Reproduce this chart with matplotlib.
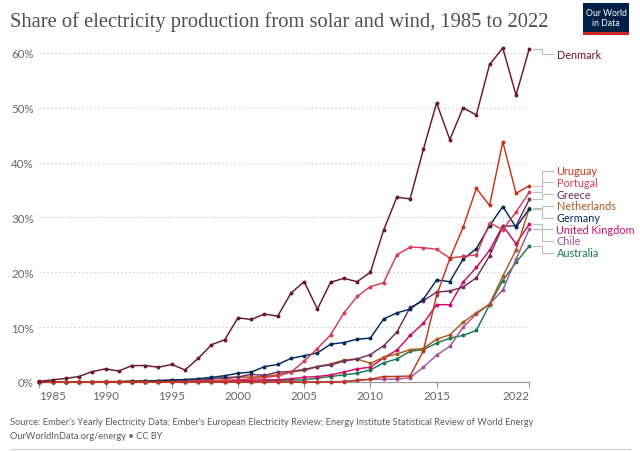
import matplotlib
matplotlib.use("Agg")
import matplotlib.pyplot as plt
from matplotlib.patches import Rectangle
from matplotlib.lines import Line2D
import matplotlib.transforms as mtransforms

years = list(range(1985, 2023))

denmark = [0.1, 0.4, 0.65, 1.0, 1.9, 2.4, 2.0, 3.0, 3.0, 2.7, 3.2, 2.2, 4.3, 6.8, 7.7,
           11.7, 11.4, 12.4, 12.0, 16.2, 18.3, 13.3, 18.2, 18.9, 18.3,
           20.0, 27.7, 33.7, 33.4, 42.4, 50.9, 44.2, 50.0, 48.7, 57.9,
           60.9, 52.3, 60.8]
uruguay = [0.0] * 23 + [0.05, 0.3, 0.5, 1.0, 1.0, 1.1, 5.7, 15.8, 22.5, 28.2, 35.3, 32.2, 43.8, 34.4, 35.8]
portugal = [0, 0, 0, 0, 0, 0, 0, 0, 0, 0, 0.02, 0.05, 0.1, 0.2, 0.3,
            0.4, 0.6, 0.8, 1.1, 1.8, 3.8, 6.1, 8.6, 12.6, 15.6,
            17.4, 18.1, 23.2, 24.6, 24.5, 24.2, 22.6, 22.9, 23.2, 29.0,
            27.8, 31.0, 34.6]
greece = [0, 0, 0, 0, 0, 0, 0, 0.05, 0.1, 0.1, 0.1, 0.1, 0.15, 0.6, 0.8,
          0.9, 1.4, 1.2, 1.8, 1.9, 2.3, 2.8, 3.1, 3.8, 4.2,
          5.0, 6.6, 9.1, 13.6, 14.8, 16.4, 16.6, 17.3, 19.0, 23.0,
          28.4, 28.5, 33.3]
netherlands = [0, 0, 0, 0, 0.05, 0.1, 0.1, 0.2, 0.2, 0.25, 0.35, 0.4, 0.5, 0.6, 0.6,
               0.9, 0.9, 1.0, 1.3, 1.9, 2.1, 2.8, 3.3, 4.0, 4.2,
               3.4, 4.5, 5.1, 5.9, 6.1, 7.8, 8.6, 10.9, 12.6, 14.2,
               19.3, 24.1, 31.7]
germany = [0, 0, 0, 0, 0, 0, 0.05, 0.1, 0.15, 0.25, 0.35, 0.45, 0.6, 0.85, 1.15,
           1.6, 1.8, 2.8, 3.2, 4.3, 4.8, 5.3, 6.9, 7.2, 7.8,
           8.0, 11.5, 12.6, 13.3, 15.1, 18.6, 18.3, 22.4, 24.3, 28.5,
           32.0, 28.2, 31.6]
uk = [0, 0, 0, 0, 0, 0, 0, 0.05, 0.05, 0.1, 0.1, 0.15, 0.2, 0.2, 0.25,
      0.3, 0.3, 0.4, 0.4, 0.6, 0.85, 1.0, 1.3, 1.8, 2.4,
      2.7, 4.4, 5.8, 8.5, 10.7, 14.1, 14.1, 18.2, 20.9, 24.0,
      28.5, 25.2, 28.8]
chile = [0.0] * 23 + [0.1, 0.3, 0.5, 0.5, 0.5, 0.8, 2.7, 4.9, 6.5, 10.0, 12.4, 14.2, 16.8, 22.4, 27.9]
australia = [0, 0, 0, 0, 0, 0, 0, 0, 0, 0, 0.02, 0.03, 0.05, 0.05, 0.08,
             0.1, 0.15, 0.2, 0.3, 0.35, 0.4, 0.7, 1.0, 1.3, 1.6,
             2.2, 3.5, 4.2, 5.6, 5.9, 7.1, 8.0, 8.5, 9.4, 14.1,
             18.5, 21.8, 24.8]

series = [
    ("Australia", australia, "#18794E"),
    ("Chile", chile, "#A2559C"),
    ("United Kingdom", uk, "#CF0A66"),
    ("Netherlands", netherlands, "#A85A1E"),
    ("Greece", greece, "#6E2F5E"),
    ("Germany", germany, "#00295B"),
    ("Portugal", portugal, "#D73C50"),
    ("Uruguay", uruguay, "#C1361B"),
    ("Denmark", denmark, "#6A1827"),
]

xticks = [1985, 1990, 1995, 2000, 2005, 2010, 2015, 2022]
yticks = [0, 10, 20, 30, 40, 50, 60]

W, H = 640, 452
fig = plt.figure(figsize=(W / 100, H / 100), dpi=100)
ax_l, ax_r = 39.3, 529.3
ax_b, ax_t = 383.0, 48.5
ax = fig.add_axes([ax_l / W, (H - ax_b) / H, (ax_r - ax_l) / W, (ax_b - ax_t) / H])
ax.set_xlim(1985, 2022)
ax.set_ylim(0, 61)

for name, vals, col in series:
    ax.plot(years, vals, color=col, lw=1.05, marker="o", ms=1.8, clip_on=False, zorder=3)

for v in yticks[1:]:
    ax.axhline(v, color="#d0d0d0", lw=0.8, ls=(0, (1.5, 2)), zorder=1)

for s in ["top", "right", "left"]:
    ax.spines[s].set_visible(False)
ax.spines["bottom"].set_color("#999999")
ax.spines["bottom"].set_linewidth(0.9)

font = "Lato"
ax.set_yticks(yticks)
ax.set_yticklabels([f"{v}%" for v in yticks], fontfamily=font, fontsize=8.3, color="#666666")
ax.tick_params(axis="y", length=0, pad=4)
ax.set_xticks(xticks)
ax.set_xticklabels([str(v) for v in xticks], fontfamily=font, fontsize=8.3, color="#666666")
ax.tick_params(axis="x", length=4, width=0.8, color="#999999", pad=2)
xl = ax.get_xticklabels()
xl[0].set_ha("left")
xl[-1].set_ha("right")

# right-hand labels with connectors
trans = mtransforms.blended_transform_factory(ax.transAxes, ax.transData)
fx = lambda px: (px - ax_l) / (ax_r - ax_l)
group = [(n, v[-1], c) for n, v, c in series if n != "Denmark"]
group.sort(key=lambda t: -t[1])
gap = 2.13
mean = sum(t[1] for t in group) / len(group)
k = len(group)
placed = [(n, e, c, mean + ((k - 1) / 2 - i) * gap) for i, (n, e, c) in enumerate(group)]
dn = [(n, v[-1], c) for n, v, c in series if n == "Denmark"][0]
placed.append((dn[0], dn[1], dn[2], min(dn[1], 59.8)))
for n, e, c, ly in placed:
    ax.plot([fx(533), fx(542), fx(542), fx(553)], [e, e, ly, ly], transform=trans,
            color="#bbbbbb", lw=0.8, clip_on=False)
    ax.text(fx(556.5), ly, n, transform=trans, color=c, fontfamily=font, fontsize=7.8,
            va="center", ha="left", clip_on=False)

# title
fig.text(10 / W, 1 - 22 / H, "Share of electricity production from solar and wind, 1985 to 2022",
         fontfamily="Liberation Serif", fontsize=14.8, color="#4e4e4e", va="center", ha="left")

# logo
lx0, ly0, lw_, lh_ = 583, 4, 46, 32
fig.patches.append(Rectangle((lx0 / W, 1 - (ly0 + lh_) / H), lw_ / W, lh_ / H,
                             transform=fig.transFigure, facecolor="#002147", edgecolor="none"))
fig.patches.append(Rectangle((lx0 / W, 1 - (ly0 + lh_) / H), lw_ / W, 3 / H,
                             transform=fig.transFigure, facecolor="#CE261E", edgecolor="none"))
fig.text((lx0 + lw_ / 2) / W, 1 - 13 / H, "Our World", color="white", fontfamily="Lato",
         fontsize=6.2, ha="center", va="center")
fig.text((lx0 + lw_ / 2) / W, 1 - 24 / H, "in Data", color="white", fontfamily="Lato",
         fontsize=6.2, ha="center", va="center")

# footer
fig.text(10 / W, 1 - 423 / H,
         "Source: Ember's Yearly Electricity Data; Ember's European Electricity Review; Energy Institute Statistical Review of World Energy",
         fontfamily=font, fontsize=6.7, color="#5b5b5b", va="center", ha="left")
fig.text(10 / W, 1 - 437 / H, "OurWorldInData.org/energy • CC BY",
         fontfamily=font, fontsize=6.7, color="#5b5b5b", va="center", ha="left")
fig.add_artist(Line2D([10 / W, 630 / W], [1 - 450 / H, 1 - 450 / H], color="#cccccc", lw=0.8))

fig.savefig("out.png", dpi=100)
